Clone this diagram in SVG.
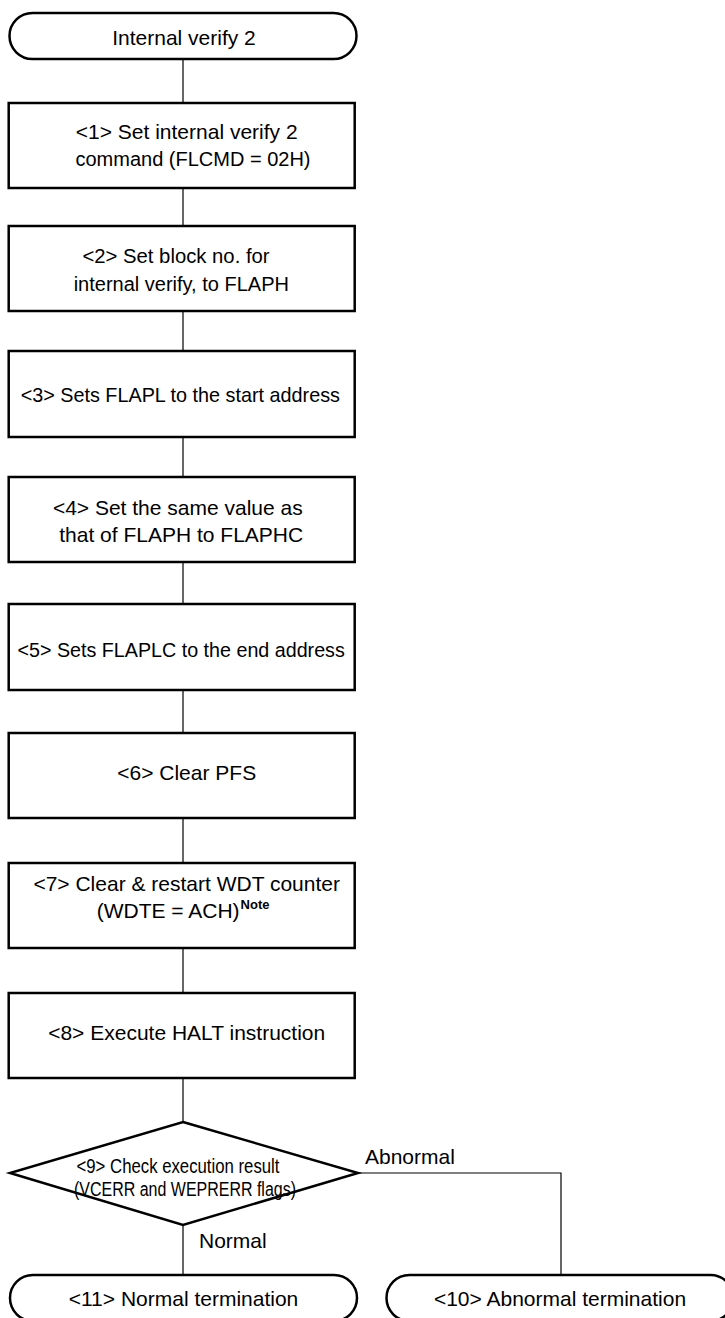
<svg xmlns="http://www.w3.org/2000/svg" width="725" height="1318" viewBox="0 0 725 1318">
<style>
.shape{fill:#fff;stroke:#000;stroke-width:2.5}
.conn{fill:none;stroke:#000;stroke-width:1.2}
text{font-family:"Liberation Sans",Arial,sans-serif;font-size:21px;fill:#000}
.c{text-anchor:middle}
.note{font-weight:bold;font-size:13px}
</style>
<rect width="725" height="1318" fill="#fff"/>
<g id="connectors">
<line class="conn" x1="183" y1="59" x2="183" y2="102"/>
<line class="conn" x1="183" y1="188" x2="183" y2="226"/>
<line class="conn" x1="183" y1="311" x2="183" y2="351"/>
<line class="conn" x1="183" y1="437" x2="183" y2="477"/>
<line class="conn" x1="183" y1="562" x2="183" y2="604"/>
<line class="conn" x1="183" y1="690" x2="183" y2="733"/>
<line class="conn" x1="183" y1="818" x2="183" y2="863"/>
<line class="conn" x1="183" y1="948" x2="183" y2="993"/>
<line class="conn" x1="183" y1="1078" x2="183" y2="1122"/>
<line class="conn" x1="183" y1="1225" x2="183" y2="1275"/>
<polyline class="conn" points="358,1173 561,1173 561,1275"/>
</g>
<g id="start">
<rect class="shape" x="9.5" y="13" width="347" height="46" rx="23" ry="23"/>
<text class="c" x="184" y="45">Internal verify 2</text>
</g>
<g id="step1">
<rect class="shape" x="8.7" y="103" width="346" height="85"/>
<text class="c" x="186.7" y="139">&lt;1&gt; Set internal verify 2</text>
<text class="c" x="193" y="166" style="font-size:20px">command (FLCMD = 02H)</text>
</g>
<g id="step2">
<rect class="shape" x="8.7" y="226" width="346" height="85"/>
<text class="c" x="176" y="263" style="font-size:20.3px">&lt;2&gt; Set block no. for</text>
<text class="c" x="181.3" y="290.5" style="font-size:20px">internal verify, to FLAPH</text>
</g>
<g id="step3">
<rect class="shape" x="8.7" y="351" width="346" height="86"/>
<text class="c" x="180.3" y="401.5" style="font-size:19.8px">&lt;3&gt; Sets FLAPL to the start address</text>
</g>
<g id="step4">
<rect class="shape" x="8.7" y="477" width="346" height="85"/>
<text class="c" x="177.8" y="515">&lt;4&gt; Set the same value as</text>
<text class="c" x="181.2" y="541.5">that of FLAPH to FLAPHC</text>
</g>
<g id="step5">
<rect class="shape" x="8.7" y="604" width="346" height="86"/>
<text class="c" x="181.2" y="657" style="font-size:19.7px">&lt;5&gt; Sets FLAPLC to the end address</text>
</g>
<g id="step6">
<rect class="shape" x="8.7" y="733" width="346" height="85"/>
<text class="c" x="186.7" y="780">&lt;6&gt; Clear PFS</text>
</g>
<g id="step7">
<rect class="shape" x="8.7" y="863" width="346" height="85"/>
<text class="c" x="186.7" y="890.5">&lt;7&gt; Clear &amp; restart WDT counter</text>
<text x="96.7" y="917.5">(WDTE = ACH)<tspan class="note" dx="1" dy="-9">Note</tspan></text>
</g>
<g id="step8">
<rect class="shape" x="8.7" y="993" width="346" height="85"/>
<text class="c" x="186.7" y="1040">&lt;8&gt; Execute HALT instruction</text>
</g>
<g id="decision9">
<polygon class="shape" points="183,1122 358,1173 183,1225 10,1173"/>
<text class="c" x="178" y="1173" style="font-size:20px" textLength="203" lengthAdjust="spacingAndGlyphs">&lt;9&gt; Check execution result</text>
<text class="c" x="185" y="1195.5" style="font-size:20px" textLength="222" lengthAdjust="spacingAndGlyphs">(VCERR and WEPRERR flags)</text>
</g>
<g id="labels">
<text x="365" y="1164">Abnormal</text>
<text x="199" y="1248">Normal</text>
</g>
<g id="end11">
<rect class="shape" x="10" y="1275" width="347" height="46" rx="23" ry="23"/>
<text class="c" x="183.5" y="1306">&lt;11&gt; Normal termination</text>
</g>
<g id="end10">
<rect class="shape" x="386.5" y="1275" width="347" height="46" rx="23" ry="23"/>
<text class="c" x="560" y="1306">&lt;10&gt; Abnormal termination</text>
</g>
</svg>
